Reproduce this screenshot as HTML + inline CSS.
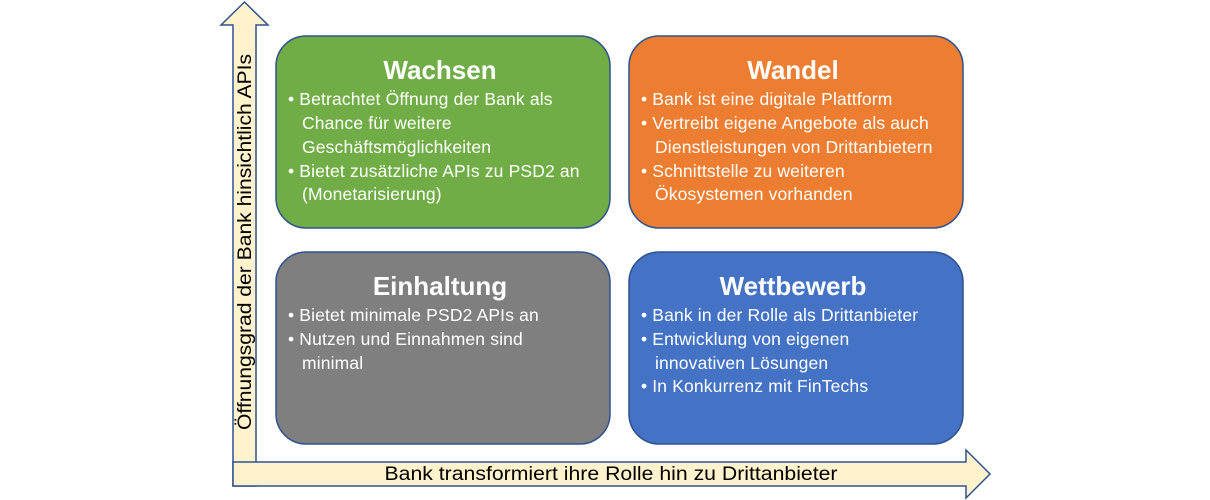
<!DOCTYPE html>
<html><head><meta charset="utf-8"><style>
html,body{margin:0;padding:0;background:#fff;}
svg{display:block;}
text{font-family:"Liberation Sans",sans-serif;}
.t{font-weight:bold;font-size:26px;fill:#fff;text-anchor:middle;}
.b{font-size:17.5px;fill:#fff;letter-spacing:0.15px;}
</style></head><body>
<svg width="1210" height="500" viewBox="0 0 1210 500">
<polygon points="233,486 233,25 221,25 244.5,2 268,25 256,25 256,486" fill="#fff2cc" stroke="#2f528f" stroke-width="1.5"/>
<polygon points="233,486 233,462 966,462 966,450 990,474 966,498 966,486" fill="#fff2cc" stroke="#2f528f" stroke-width="1.5"/>
<rect x="234" y="463" width="21" height="22" fill="#fff2cc"/>
<text x="611" y="480" font-size="19" text-anchor="middle" textLength="453" lengthAdjust="spacingAndGlyphs" fill="#000">Bank transformiert ihre Rolle hin zu Drittanbieter</text>
<text transform="translate(251,242) rotate(-90)" font-size="19" text-anchor="middle" textLength="376" lengthAdjust="spacingAndGlyphs" fill="#000">Öffnungsgrad der Bank hinsichtlich APIs</text>

<rect x="276" y="36" width="334" height="192" rx="30" fill="#70ad47" stroke="#2f528f" stroke-width="1.5"/>
<rect x="629" y="36" width="334" height="192" rx="30" fill="#ed7d31" stroke="#2f528f" stroke-width="1.5"/>
<rect x="276" y="252" width="334" height="192" rx="30" fill="#7f7f7f" stroke="#2f528f" stroke-width="1.5"/>
<rect x="629" y="252" width="334" height="192" rx="30" fill="#4472c4" stroke="#2f528f" stroke-width="1.5"/>

<text class="t" x="440" y="79">Wachsen</text>
<text class="b" x="288" y="105">• Betrachtet Öffnung der Bank als</text>
<text class="b" x="302" y="129">Chance für weitere</text>
<text class="b" x="302" y="153">Geschäftsmöglichkeiten</text>
<text class="b" x="288" y="177">• Bietet zusätzliche APIs zu PSD2 an</text>
<text class="b" x="302" y="200">(Monetarisierung)</text>

<text class="t" x="793" y="79">Wandel</text>
<text class="b" x="641" y="105">• Bank ist eine digitale Plattform</text>
<text class="b" x="641" y="129">• Vertreibt eigene Angebote als auch</text>
<text class="b" x="655" y="153">Dienstleistungen von Drittanbietern</text>
<text class="b" x="641" y="177">• Schnittstelle zu weiteren</text>
<text class="b" x="655" y="200">Ökosystemen vorhanden</text>

<text class="t" x="440" y="295">Einhaltung</text>
<text class="b" x="288" y="321">• Bietet minimale PSD2 APIs an</text>
<text class="b" x="288" y="345">• Nutzen und Einnahmen sind</text>
<text class="b" x="302" y="369">minimal</text>

<text class="t" x="793" y="295">Wettbewerb</text>
<text class="b" x="641" y="321">• Bank in der Rolle als Drittanbieter</text>
<text class="b" x="641" y="345">• Entwicklung von eigenen</text>
<text class="b" x="655" y="369">innovativen Lösungen</text>
<text class="b" x="641" y="392">• In Konkurrenz mit FinTechs</text>
</svg>
</body></html>
